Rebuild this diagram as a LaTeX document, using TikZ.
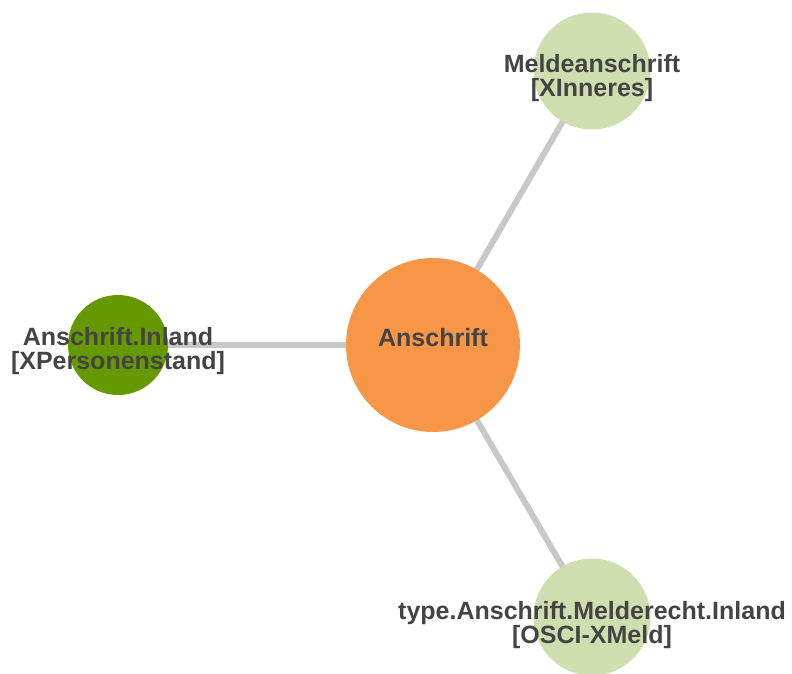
\documentclass[tikz,border=0pt]{standalone}
\usepackage{fontspec}
\setmainfont{Liberation Sans}
\usetikzlibrary{backgrounds}
\definecolor{orangenode}{RGB}{247,150,70}
\definecolor{darkleaf}{RGB}{102,153,0}
\definecolor{lightleaf}{RGB}{207,222,174}
\definecolor{linkgray}{RGB}{200,200,200}
\definecolor{labelgray}{RGB}{68,68,68}
\begin{document}
\begin{tikzpicture}[x=1pt,y=-1pt,
   circ/.style={circle,inner sep=0pt,draw=none},
   txt/.style={text=labelgray,font=\fontsize{25}{24}\selectfont\bfseries,align=center,inner sep=0pt},
   link/.style={draw=linkgray,line width=6pt}]
   \useasboundingbox (0,0) rectangle (792,674);
   \node[circ,fill=orangenode,minimum size=174pt,label={[txt,yshift=7pt]center:Anschrift}] (ans) at (433,345) {};
   \node[circ,fill=lightleaf,minimum size=117pt,label={[txt,yshift=-7pt]center:Meldeanschrift\\{}[XInneres]}] (meld) at (592,71) {};
   \node[circ,fill=darkleaf,minimum size=100pt,label={[txt,yshift=-6pt]center:Anschrift.Inland\\{}[XPersonenstand]}] (inl) at (118,345) {};
   \node[circ,fill=lightleaf,minimum size=117pt,label={[txt,yshift=-8pt]center:type.Anschrift.Melderecht.Inland\\{}[OSCI-XMeld]}] (typ) at (592,617) {};
   \begin{scope}[on background layer]
    \path[link]
    (ans.center) edge (meld.center)
                 edge (inl.center)
                 edge (typ.center);
   \end{scope}
\end{tikzpicture}
\end{document}
